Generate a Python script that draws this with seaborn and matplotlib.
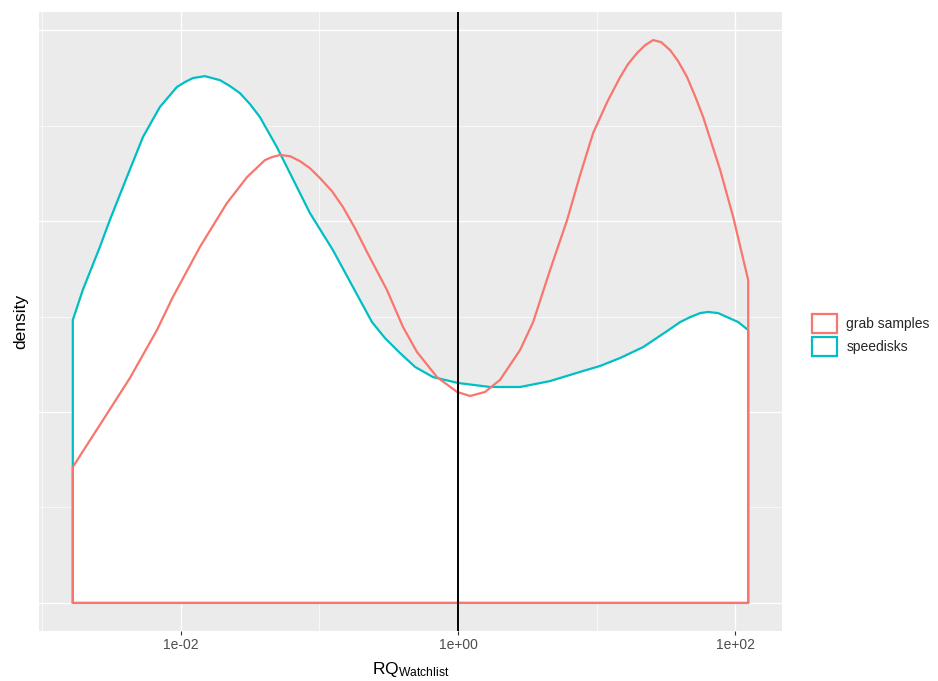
import numpy as np
import pandas as pd
import matplotlib
matplotlib.use("Agg")
import matplotlib.pyplot as plt
import seaborn as sns
from matplotlib.patches import Patch
from matplotlib.ticker import FixedLocator, FuncFormatter, NullFormatter

# ── data (x as log10 RQ, y as density) ──
speedisks_log10_rq = [-2.780, -2.708, -2.585, -2.513, -2.390, -2.274, -2.152, -2.029,
                      -1.971, -1.913, -1.827, -1.718, -1.646, -1.574, -1.502, -1.430,
                      -1.307, -1.213, -1.069, -0.903, -0.758, -0.621, -0.527, -0.419,
                      -0.310, -0.181, 0.000, 0.231, 0.448, 0.664, 0.903, 1.025,
                      1.170, 1.336, 1.509, 1.603, 1.675, 1.747, 1.805, 1.877,
                      1.942, 2.022, 2.094]
speedisks_density = [0.1482, 0.1639, 0.1864, 0.2005, 0.2230, 0.2440, 0.2597, 0.2702,
                     0.2728, 0.2749, 0.2759, 0.2738, 0.2707, 0.2670, 0.2613, 0.2545,
                     0.2387, 0.2251, 0.2042, 0.1848, 0.1654, 0.1471, 0.1387, 0.1309,
                     0.1236, 0.1183, 0.1152, 0.1131, 0.1131, 0.1162, 0.1215, 0.1241,
                     0.1283, 0.1340, 0.1424, 0.1471, 0.1497, 0.1518, 0.1524, 0.1518,
                     0.1497, 0.1471, 0.1429]

grab_log10_rq = [-2.780, -2.585, -2.368, -2.173, -2.058, -1.863, -1.668, -1.523,
                 -1.394, -1.343, -1.285, -1.213, -1.141, -1.069, -0.996, -0.910,
                 -0.830, -0.744, -0.657, -0.513, -0.397, -0.296, -0.152, -0.007,
                 0.087, 0.195, 0.303, 0.448, 0.542, 0.664, 0.787, 0.881,
                 0.975, 1.076, 1.170, 1.227, 1.292, 1.350, 1.408, 1.466,
                 1.531, 1.588, 1.653, 1.711, 1.769, 1.892, 1.986, 2.094]
grab_density = [0.0712, 0.0932, 0.1178, 0.1429, 0.1602, 0.1864, 0.2094, 0.2230,
                0.2319, 0.2335, 0.2346, 0.2340, 0.2314, 0.2277, 0.2225, 0.2157,
                0.2073, 0.1963, 0.1838, 0.1639, 0.1445, 0.1314, 0.1183, 0.1105,
                0.1084, 0.1105, 0.1168, 0.1325, 0.1471, 0.1743, 0.2005, 0.2241,
                0.2461, 0.2623, 0.2754, 0.2822, 0.2880, 0.2921, 0.2948, 0.2937,
                0.2895, 0.2838, 0.2754, 0.2654, 0.2545, 0.2267, 0.2021, 0.1691]

groups = ["grab samples", "speedisks"]
colors = {"grab samples": "#F8766D", "speedisks": "#00BFC4"}

x_breaks = [1e-2, 1e0, 1e2]
x_minor = [1e-3, 1e-1, 1e1, 1e3]
y_breaks = [0.0, 0.1, 0.2, 0.3]
y_minor = [0.05, 0.15, 0.25]


def outline(log10_rq, dens, name):
    """Closed density outline: up the left edge, along the curve, down and back along 0."""
    rq = [10 ** v for v in log10_rq]
    xs = [rq[0]] + rq + [rq[-1], rq[0]]
    ys = [0.0] + list(dens) + [0.0, 0.0]
    return pd.DataFrame({"rq": xs, "density": ys, "type": name})


df = pd.concat([
    outline(speedisks_log10_rq, speedisks_density, "speedisks"),
    outline(grab_log10_rq, grab_density, "grab samples"),
], ignore_index=True)

# ── theme (ggplot grey look) ──
sns.set_theme(style="darkgrid", rc={
    "axes.facecolor": "#EBEBEB",
    "grid.color": "white",
    "axes.edgecolor": "#EBEBEB",
})
plt.rcParams["font.family"] = ["Liberation Sans", "DejaVu Sans"]
plt.rcParams["mathtext.default"] = "regular"

fig = plt.figure(figsize=(9.38, 6.81), dpi=100)
ax = fig.add_axes([39 / 938, 1 - 631 / 681, (782 - 39) / 938, (631 - 12) / 681])

# white fill under the speedisks curve only
ax.fill_between([10 ** v for v in speedisks_log10_rq], speedisks_density, 0,
                color="white", linewidth=0, zorder=1)

sns.lineplot(data=df, x="rq", y="density", hue="type",
             hue_order=["speedisks", "grab samples"], palette=colors,
             sort=False, estimator=None, legend=False, linewidth=1.6,
             ax=ax, zorder=2)
for line in ax.get_lines():
    line.set_solid_joinstyle("round")

ax.axvline(1, color="black", linewidth=1.4, zorder=3)

ax.set_xscale("log")
ax.set_xlim(10 ** -3.024, 10 ** 2.338)
ax.set_ylim(-0.0147, 0.3095)

ax.xaxis.set_major_locator(FixedLocator(x_breaks))
ax.xaxis.set_major_formatter(FuncFormatter(lambda v, p: f"{v:.0e}"))
ax.xaxis.set_minor_locator(FixedLocator(x_minor))
ax.xaxis.set_minor_formatter(NullFormatter())
ax.yaxis.set_major_locator(FixedLocator(y_breaks))
ax.yaxis.set_minor_locator(FixedLocator(y_minor))
ax.yaxis.set_major_formatter(NullFormatter())

ax.grid(which="major", color="white", linewidth=1.0)
ax.grid(which="minor", color="white", linewidth=0.5)
ax.set_axisbelow(True)

ax.tick_params(axis="x", which="major", length=3, width=0.8, color="#333333",
               labelsize=10, labelcolor="#4D4D4D", pad=2, bottom=True)
ax.tick_params(axis="x", which="minor", length=0)
ax.tick_params(axis="y", which="both", length=0, left=False)
for s in ax.spines.values():
    s.set_visible(False)

ax.set_xlabel("RQ$_{Watchlist}$", fontsize=12.5, color="black", labelpad=6)
ax.set_ylabel("density", fontsize=12.5, color="black", labelpad=4)

handles = [Patch(facecolor="white", edgecolor=colors[g], linewidth=1.6, label=g)
           for g in groups]
fig.legend(handles=handles, loc="center left", bbox_to_anchor=(806 / 938, 1 - 335 / 681),
           frameon=False, fontsize=10, handlelength=1.8, handleheight=1.8,
           handletextpad=0.7, labelspacing=0.25, borderaxespad=0)

fig.savefig("out.png", dpi=100)
